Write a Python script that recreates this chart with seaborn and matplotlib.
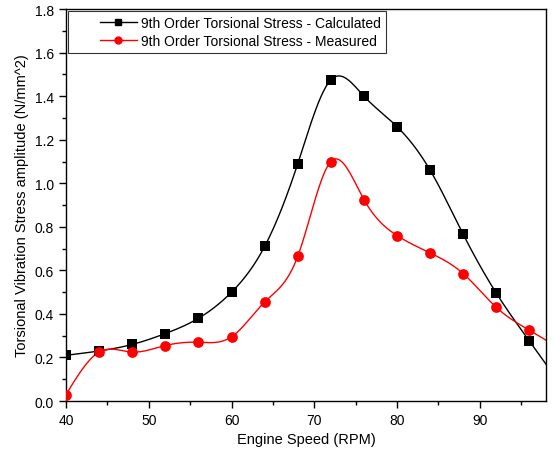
import numpy as np
import pandas as pd
import matplotlib
matplotlib.use("Agg")
import matplotlib.pyplot as plt
import seaborn as sns
from matplotlib.lines import Line2D
from matplotlib.legend_handler import HandlerLine2D
from matplotlib.ticker import MultipleLocator

rpm = [40, 44, 48, 52, 56, 60, 64, 68, 72, 76, 80, 84, 88, 92, 96]
calculated = [0.21, 0.23, 0.26, 0.31, 0.38, 0.50, 0.71, 1.09, 1.475, 1.40, 1.26, 1.06, 0.765, 0.495, 0.275]
measured = [0.03, 0.225, 0.225, 0.255, 0.27, 0.295, 0.455, 0.665, 1.10, 0.925, 0.76, 0.68, 0.585, 0.43, 0.325]
label_calc = "9th Order Torsional Stress - Calculated"
label_meas = "9th Order Torsional Stress - Measured"


def natural_spline(x, y, xs):
    x = np.asarray(x, float); y = np.asarray(y, float)
    n = len(x); h = np.diff(x)
    A = np.zeros((n, n)); b = np.zeros(n)
    A[0, 0] = 1; A[-1, -1] = 1
    for i in range(1, n - 1):
        A[i, i - 1] = h[i - 1]; A[i, i] = 2 * (h[i - 1] + h[i]); A[i, i + 1] = h[i]
        b[i] = 3 * ((y[i + 1] - y[i]) / h[i] - (y[i] - y[i - 1]) / h[i - 1])
    c = np.linalg.solve(A, b)
    bb = (y[1:] - y[:-1]) / h - h * (2 * c[:-1] + c[1:]) / 3
    d = (c[1:] - c[:-1]) / (3 * h)
    idx = np.clip(np.searchsorted(x, xs) - 1, 0, n - 2)
    dx = xs - x[idx]
    return y[idx] + bb[idx] * dx + c[idx] * dx ** 2 + d[idx] * dx ** 3


class OffsetHandler(HandlerLine2D):
    def create_artists(self, legend, orig_handle, xdescent, ydescent, width,
                       height, fontsize, trans):
        arts = super().create_artists(legend, orig_handle, xdescent, ydescent,
                                      width, height, fontsize, trans)
        off = 0.42 * width
        x0 = -xdescent + off
        x1 = -xdescent + width
        for a in arts:
            xd = np.asarray(a.get_xdata())
            if len(xd) >= 2:
                a.set_xdata(np.linspace(x0, x1, len(xd)))
            else:
                a.set_xdata([(x0 + x1) / 2] * len(xd))
        return arts


xs = np.linspace(40, 98, 600)
curve = pd.DataFrame({"x": xs, "calc": natural_spline(rpm, calculated, xs),
                      "meas": natural_spline(rpm, measured, xs)})
pts = pd.DataFrame({"x": rpm, "calc": calculated, "meas": measured})

plt.rcParams['font.family'] = ['Liberation Sans', 'DejaVu Sans']
fig = plt.figure(figsize=(5.53, 4.60), dpi=100)
ax = fig.add_axes([0.1194, 0.126, 0.868, 0.852])

sns.lineplot(data=curve, x="x", y="calc", ax=ax, color="black", lw=1.0, sort=False)
sns.lineplot(data=curve, x="x", y="meas", ax=ax, color="red", lw=1.0, sort=False)
sns.scatterplot(data=pts, x="x", y="calc", ax=ax, color="black", marker="s", s=50,
                edgecolor="black", linewidth=0, zorder=3)
sns.scatterplot(data=pts, x="x", y="meas", ax=ax, color="red", marker="o", s=60,
                edgecolor="red", linewidth=0, zorder=3)

ax.set_xlim(40, 98)
ax.set_ylim(0, 1.8)
ax.xaxis.set_major_locator(MultipleLocator(10))
ax.xaxis.set_minor_locator(MultipleLocator(5))
ax.yaxis.set_major_locator(MultipleLocator(0.2))
ax.yaxis.set_minor_locator(MultipleLocator(0.1))
ax.yaxis.set_major_formatter(matplotlib.ticker.FormatStrFormatter('%.1f'))
ax.tick_params(which='major', direction='out', length=5, width=1, labelsize=10)
ax.tick_params(which='minor', direction='out', length=3, width=1)
for s in ax.spines.values():
    s.set_linewidth(1.0)
    s.set_color("black")
ax.set_xlabel("Engine Speed (RPM)", fontsize=10.5)
ax.set_ylabel("Torsional Vibration Stress amplitude (N/mm^2)", fontsize=10.5)

handles = [Line2D([0], [0], color="black", lw=1, marker="s", markersize=5),
           Line2D([0], [0], color="red", lw=1, marker="o", markersize=5)]
leg = ax.legend(handles, [label_calc, label_meas], loc="upper left", fontsize=10,
                frameon=True, fancybox=False, edgecolor="black", borderpad=0.35,
                handlelength=4.6, handletextpad=0.3, labelspacing=0.3,
                bbox_to_anchor=(0.0, 1.0), borderaxespad=0.15,
                handler_map={Line2D: OffsetHandler()})
leg.get_frame().set_linewidth(0.8)

fig.savefig("out.png", dpi=100)
